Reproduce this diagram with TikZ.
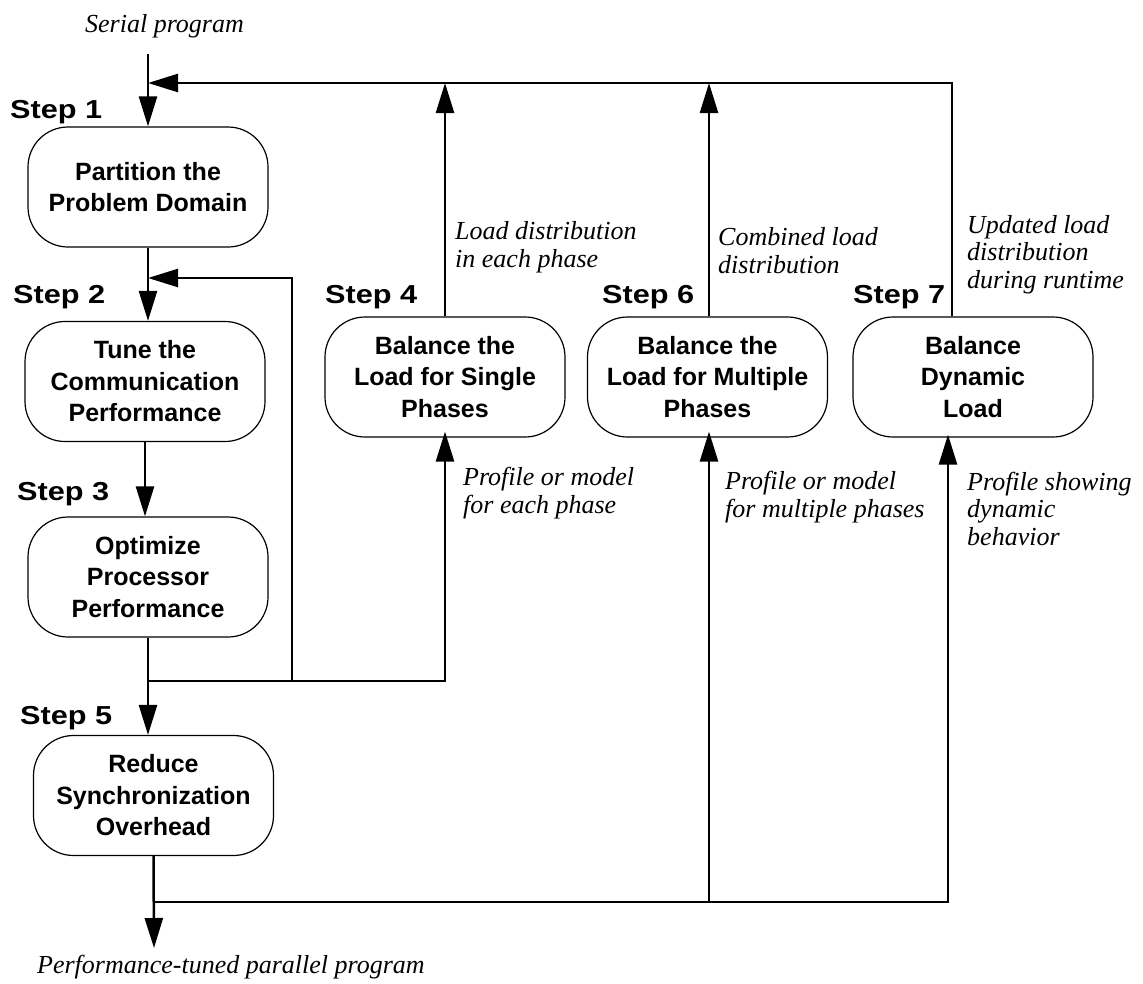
\documentclass[tikz,border=0pt]{standalone}
\usepackage{fontspec}
\setmainfont{Liberation Serif}
\setsansfont{Liberation Sans}
\newfontfamily\stepfont{Liberation Sans}[FakeStretch=1.18]
\usetikzlibrary{arrows.meta}

\tikzset{
  stepbox/.style={draw, line width=1.2pt, rounded corners=40pt,
    minimum width=240pt, minimum height=120pt, align=center, inner sep=0pt,
    font=\sffamily\bfseries\fontsize{25}{31.5}\selectfont},
  steplabel/.style={anchor=base west, inner sep=0pt,
    font=\stepfont\bfseries\fontsize{26}{28}\selectfont},
  note/.style={anchor=base west, inner sep=0pt, align=left,
    font=\itshape\fontsize{26}{27.5}\selectfont},
  flow/.style={line width=2.5pt},
  arr/.style={flow, -{Triangle[length=30pt,width=18pt]}},
}

\begin{document}
\begin{tikzpicture}[x=1pt, y=-1pt]
\useasboundingbox[fill=white] (0,0) rectangle (1143,983);

% main column of steps
\node[stepbox] (b1) at (148,187)   {Partition the\\Problem Domain};
\node[stepbox] (b2) at (145,381.5) {Tune the\\Communication\\Performance};
\node[stepbox] (b3) at (148,577)   {Optimize\\Processor\\Performance};
\node[stepbox] (b5) at (153.5,795.5) {Reduce\\Synchronization\\Overhead};

% load balancing steps
\node[stepbox] (b4) at (445,377)   {Balance the\\Load for Single\\Phases};
\node[stepbox] (b6) at (707.5,377) {Balance the\\Load for Multiple\\Phases};
\node[stepbox] (b7) at (973,377)   {Balance\\Dynamic\\Load};

% step numbers
\node[steplabel] (s1) at (10,118)  {Step 1};
\node[steplabel] (s2) at (13,303)  {Step 2};
\node[steplabel] (s3) at (17,500)  {Step 3};
\node[steplabel] (s5) at (20,724)  {Step 5};
\node[steplabel] (s4) at (325,303) {Step 4};
\node[steplabel] (s6) at (602,303) {Step 6};
\node[steplabel] (s7) at (853,303) {Step 7};

% input and output
\node[note] (sp) at (85,32) {Serial program};
\node[note] (pp) at (37,973) {Performance-tuned parallel program};

% annotations on the feedback paths (placed by the baseline of the last line)
\node[note] (l4) at (455,267) {Load distribution\\in each phase};
\node[note] (l6) at (718,273) {Combined load\\distribution};
\node[note] (l7) at (967,288) {Updated load\\distribution\\during runtime};
\node[note] (p4) at (463,513) {Profile or model\\for each phase};
\node[note] (p6) at (725,517) {Profile or model\\for multiple phases};
\node[note] (p7) at (967,545) {Profile showing\\dynamic\\behavior};

% junction points
\coordinate (in)  at (148,54);
\coordinate (top) at (148,83);
\coordinate (j2)  at (148,278);
\coordinate (k2)  at (292,278);
\coordinate (j3)  at (149,681);
\coordinate (j5)  at (154,902);
\coordinate (out) at (154,948);

% forward flow
\draw[arr] (in) -- (b1.north);
\draw[arr] (b1.south) -- (b1.south |- b2.north);
\draw[arr] (b2.south) -- (b2.south |- b3.north);
\draw[arr] (b3.south) -- (b3.south |- b5.north);
\draw[arr] (b5.south) -- (out);

% back to step 2 and on to step 4
\draw[arr] (j3) -| (k2) -- (j2);
\draw[arr] (j3) -| ([yshift=6pt]b4.south);

% from step 5 to steps 6 and 7
\draw[arr] (j5) -| ([xshift=1.5pt,yshift=6pt]b6.south);
\draw[arr] (j5) -| ([xshift=-25pt,yshift=3pt]b7.south);

% results fed back to step 1
\draw[arr] ([xshift=-21pt]b7.north) |- (top);
\draw[arr] (b4.north) -- (b4.north |- top);
\draw[arr] ([xshift=1.5pt]b6.north) -- ([xshift=1.5pt]b6.north |- top);
\end{tikzpicture}
\end{document}
